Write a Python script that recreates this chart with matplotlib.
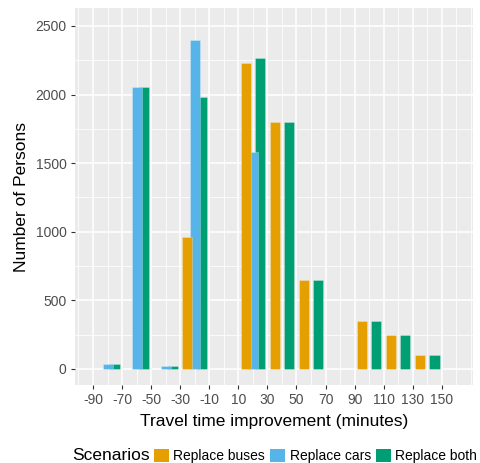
import matplotlib
matplotlib.use("Agg")
import matplotlib.pyplot as plt
from matplotlib.patches import Patch
import numpy as np

plt.rcParams['font.family'] = ['Liberation Sans', 'DejaVu Sans']
plt.rcParams['axes.unicode_minus'] = False

# ---- data (bin centres, persons per bin) ----
bin_centers = [-80, -60, -40, -20, 0, 20, 40, 60, 80, 100, 120, 140]
replace_buses = [0, 0, 0, 960, 0, 2233, 1802, 649, 0, 350, 248, 102]
replace_cars = [35, 2055, 22, 2400, 0, 1584, 0, 0, 0, 0, 0, 0]
replace_both = [35, 2055, 22, 1985, 0, 2269, 1802, 649, 0, 350, 248, 102]

series_labels = ['Replace buses', 'Replace cars', 'Replace both']
x_ticks = list(range(-90, 151, 20))
y_ticks = [0, 500, 1000, 1500, 2000, 2500]

# ---- style ----
colors = ['#E69F00', '#56B4E9', '#009E73']
offsets = [-5, 0, 5]
BAR_W = 6.9
W, H = 480, 463

fig = plt.figure(figsize=(W / 100, H / 100), dpi=100)
ax = fig.add_axes([75 / W, 1 - 385 / H, (473 - 75) / W, (385 - 8.3) / H])
ax.set_facecolor('#EBEBEB')
for s in ax.spines.values():
    s.set_visible(False)

# bars: green underneath, orange on top
data = [replace_buses, replace_cars, replace_both]
for i in [2, 1, 0]:
    xs = np.array(bin_centers, dtype=float) + offsets[i]
    vals = np.array(data[i], dtype=float)
    keep = vals > 0
    ax.bar(xs[keep], vals[keep], width=BAR_W, color=colors[i],
           edgecolor=(1, 1, 1, 0.35), linewidth=0.5, zorder=3 + (2 - i))

ax.set_xlim(-102.4, 171.5)
ax.set_ylim(-117, 2629)

# grid lines
ax.set_xticks(x_ticks)
ax.set_yticks(y_ticks)
x_minor = [v for v in range(-100, 171, 10) if v not in x_ticks]
ax.set_xticks(x_minor, minor=True)
ax.set_yticks([250, 750, 1250, 1750, 2250], minor=True)
ax.grid(which='major', color='white', linewidth=1.1, zorder=1)
ax.grid(which='minor', color='white', linewidth=0.55, zorder=1)
ax.set_axisbelow(True)

ax.tick_params(axis='both', which='major', length=3, width=0.8, color='#333333',
               labelsize=10, labelcolor='#4D4D4D', pad=3)
ax.tick_params(axis='both', which='minor', length=0)

ax.set_xlabel('Travel time improvement (minutes)', fontsize=12.5, color='black', labelpad=5)
ax.set_ylabel('Number of Persons', fontsize=12.5, color='black', labelpad=5)

# legend at the bottom, title on the left
fig.text(72 / W, 1 - 456 / H, 'Scenarios', fontsize=12.5, ha='left', va='center')
handles = [Patch(facecolor=c, edgecolor='none') for c in colors]
fig.legend(handles, series_labels, loc='center left', ncol=3,
           bbox_to_anchor=(154 / W, 1 - 456 / H), frameon=False, fontsize=10,
           handlelength=1.1, handleheight=1.1, handletextpad=0.3,
           columnspacing=0.35, borderpad=0, borderaxespad=0)

fig.savefig('out.png', dpi=100)
